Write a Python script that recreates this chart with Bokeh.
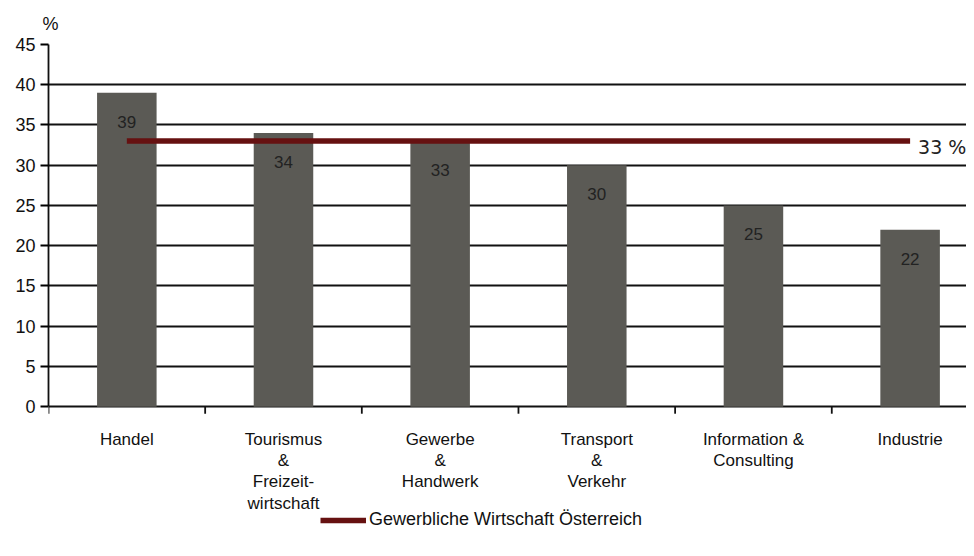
from bokeh.plotting import figure
from bokeh.models import (Range1d, FixedTicker, Label, Legend, LegendItem,
                          ColumnDataSource)
from bokeh.core.properties import value
from bokeh.embed import file_html
from bokeh.resources import INLINE

# ---- data ----
categories = ["Handel", "Tourismus\n&\nFreizeit-\nwirtschaft", "Gewerbe\n&\nHandwerk",
              "Transport\n&\nVerkehr", "Information &\nConsulting", "Industrie"]
values = [39, 34, 33, 30, 25, 22]
benchmark_value = 33
benchmark_name = "Gewerbliche Wirtschaft Österreich"
benchmark_label = "33 %"
y_ticks = [0, 5, 10, 15, 20, 25, 30, 35, 40, 45]
y_unit = "%"

positions = list(range(1, len(categories) + 1))
boundaries = [p + 0.5 for p in range(0, len(categories) + 1)]

BAR = "#5b5a55"
LINE = "#661111"
TXT = "#111111"
FONT = "Liberation Sans"

# frame extends below zero to hold the category labels and the legend
Y_MAX = 45
Y_LOW = -16
FRAME_H = 491
PX_PER_UNIT = FRAME_H / (Y_MAX - Y_LOW)
TICK_LEN = 7 / PX_PER_UNIT

p = figure(frame_width=918, frame_height=FRAME_H, output_backend="svg",
           toolbar_location=None,
           x_range=Range1d(0.5, 6.36), y_range=Range1d(Y_LOW, Y_MAX),
           min_border_left=48, min_border_right=0, min_border_top=44,
           min_border_bottom=0)
p.outline_line_color = None
p.background_fill_color = "white"
p.border_fill_color = "white"

p.title.text = y_unit
p.title.align = "left"
p.title.offset = -6
p.title.standoff = 22
p.title.text_font = FONT
p.title.text_font_size = "18px"
p.title.text_font_style = "normal"
p.title.text_color = TXT

# grid
p.xgrid.grid_line_color = None
p.ygrid.ticker = FixedTicker(ticks=y_ticks)
p.ygrid.grid_line_color = "#111111"
p.ygrid.grid_line_width = 1.8

src = ColumnDataSource(dict(x=positions, top=values, lab=[str(v) for v in values]))
p.vbar(x="x", top="top", width=0.38, bottom=0, source=src,
       fill_color=BAR, line_color=None)
p.text(x="x", y="top", text="lab", source=src, text_align="center",
       text_baseline="middle", y_offset=29, text_font_size="17px",
       text_color="#222222", text_font=value(FONT))

line_r = p.line(x=[positions[0], positions[-1]], y=[benchmark_value, benchmark_value],
                line_color=LINE, line_width=5.5)

p.add_layout(Label(x=positions[-1], y=benchmark_value, text=benchmark_label,
                   x_offset=8, y_offset=-6, text_baseline="middle",
                   text_font="DejaVu Sans", text_font_size="19px",
                   text_color="#222222"))

# category axis (drawn at y = 0)
p.segment(x0=boundaries, y0=[0] * len(boundaries), x1=boundaries,
          y1=[-TICK_LEN] * len(boundaries), line_color="#111111", line_width=1.8)
p.text(x=positions, y=[0] * len(positions), text=categories,
       text_align="center", text_baseline="top", y_offset=23,
       text_font=value(FONT), text_font_size="17px",
       text_line_height=1.12, text_color=TXT)

# y axis
p.yaxis.ticker = FixedTicker(ticks=y_ticks)
p.yaxis.bounds = (0, Y_MAX)
p.yaxis.axis_label = None
p.yaxis.axis_line_color = "#111111"
p.yaxis.axis_line_width = 1.8
p.yaxis.major_tick_out = 8
p.yaxis.major_tick_in = 0
p.yaxis.minor_tick_line_color = None
p.yaxis.major_tick_line_width = 1.8
p.yaxis.major_label_standoff = 5
p.yaxis.major_label_text_font = FONT
p.yaxis.major_label_text_font_size = "18px"
p.yaxis.major_label_text_color = TXT

p.xaxis.visible = False

legend = Legend(items=[LegendItem(label=benchmark_name, renderers=[line_r])],
                location=(272, 5), orientation="horizontal",
                border_line_color=None, background_fill_alpha=0,
                padding=0, margin=0, glyph_width=46, glyph_height=20,
                label_height=20,
                label_standoff=3, label_text_font=FONT,
                label_text_font_size="18px", label_text_color=TXT)
p.add_layout(legend, "center")

open("out.html", "w").write(file_html(p, INLINE))
